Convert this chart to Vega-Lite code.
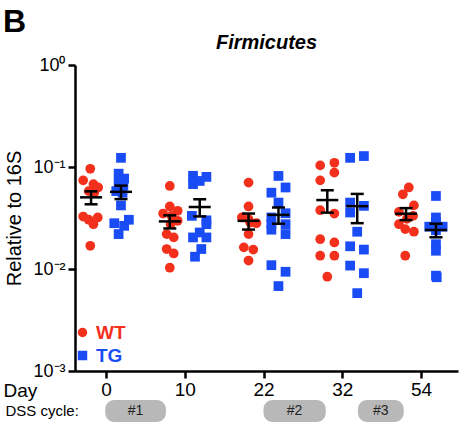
{
  "$schema": "https://vega.github.io/schema/vega-lite/v6.json",
  "padding": {"left": 3, "top": 6, "right": 8, "bottom": 0},
  "background": "white",
  "title": {"text": "B", "anchor": "start", "fontSize": 32, "fontWeight": "bold", "font": "Liberation Sans", "color": "black", "offset": -6},
  "config": {"view": {"stroke": null}, "font": "Liberation Sans"},
  "spacing": -3,
  "resolve": {"scale": {"color": "independent", "shape": "independent"}, "legend": {"color": "independent", "shape": "independent"}},
  "datasets": {
    "points": [
      {"day":0,"group":"WT","v":0.096,"jit":-0.1},{"day":0,"group":"WT","v":0.074,"jit":-1},{"day":0,"group":"WT","v":0.068,"jit":0.3},{"day":0,"group":"WT","v":0.063,"jit":0.9},{"day":0,"group":"WT","v":0.058,"jit":-0.3},{"day":0,"group":"WT","v":0.056,"jit":0.4},{"day":0,"group":"WT","v":0.0327,"jit":-1},{"day":0,"group":"WT","v":0.032,"jit":0.85},{"day":0,"group":"WT","v":0.0304,"jit":-0.3},{"day":0,"group":"WT","v":0.0275,"jit":0.3},{"day":0,"group":"WT","v":0.0169,"jit":-0.1},
      {"day":0,"group":"TG","v":0.123,"jit":0},{"day":0,"group":"TG","v":0.086,"jit":-0.3},{"day":0,"group":"TG","v":0.077,"jit":0.4},{"day":0,"group":"TG","v":0.07,"jit":-0.3},{"day":0,"group":"TG","v":0.066,"jit":0.3},{"day":0,"group":"TG","v":0.058,"jit":-0.6},{"day":0,"group":"TG","v":0.056,"jit":0.2},{"day":0,"group":"TG","v":0.042,"jit":0},{"day":0,"group":"TG","v":0.0281,"jit":-0.85},{"day":0,"group":"TG","v":0.0304,"jit":1},{"day":0,"group":"TG","v":0.0265,"jit":0.4},{"day":0,"group":"TG","v":0.022,"jit":-0.3},
      {"day":10,"group":"WT","v":0.0652,"jit":0},{"day":10,"group":"WT","v":0.041,"jit":0},{"day":10,"group":"WT","v":0.0372,"jit":1},{"day":10,"group":"WT","v":0.035,"jit":-0.85},{"day":10,"group":"WT","v":0.0332,"jit":0.2},{"day":10,"group":"WT","v":0.0297,"jit":1},{"day":10,"group":"WT","v":0.0275,"jit":0.1},{"day":10,"group":"WT","v":0.022,"jit":-0.4},{"day":10,"group":"WT","v":0.0204,"jit":0.5},{"day":10,"group":"WT","v":0.0157,"jit":-0.4},{"day":10,"group":"WT","v":0.0142,"jit":0.5},{"day":10,"group":"WT","v":0.0103,"jit":0},
      {"day":10,"group":"TG","v":0.082,"jit":-0.85},{"day":10,"group":"TG","v":0.08,"jit":0.85},{"day":10,"group":"TG","v":0.073,"jit":0},{"day":10,"group":"TG","v":0.068,"jit":-0.85},{"day":10,"group":"TG","v":0.0332,"jit":-1},{"day":10,"group":"TG","v":0.03,"jit":0.85},{"day":10,"group":"TG","v":0.0275,"jit":0.85},{"day":10,"group":"TG","v":0.0228,"jit":0},{"day":10,"group":"TG","v":0.0204,"jit":-0.85},{"day":10,"group":"TG","v":0.0204,"jit":0.85},{"day":10,"group":"TG","v":0.0157,"jit":0.2},{"day":10,"group":"TG","v":0.0132,"jit":-0.6},
      {"day":22,"group":"WT","v":0.0703,"jit":0},{"day":22,"group":"WT","v":0.041,"jit":0},{"day":22,"group":"WT","v":0.032,"jit":-0.85},{"day":22,"group":"WT","v":0.0308,"jit":0},{"day":22,"group":"WT","v":0.0285,"jit":0.2},{"day":22,"group":"WT","v":0.0281,"jit":1},{"day":22,"group":"WT","v":0.022,"jit":0},{"day":22,"group":"WT","v":0.0163,"jit":-0.6},{"day":22,"group":"WT","v":0.0155,"jit":0.6},{"day":22,"group":"WT","v":0.0121,"jit":0},
      {"day":22,"group":"TG","v":0.0817,"jit":0},{"day":22,"group":"TG","v":0.063,"jit":0.9},{"day":22,"group":"TG","v":0.056,"jit":-0.9},{"day":22,"group":"TG","v":0.0448,"jit":0},{"day":22,"group":"TG","v":0.0352,"jit":0.9},{"day":22,"group":"TG","v":0.032,"jit":-0.9},{"day":22,"group":"TG","v":0.0275,"jit":-0.9},{"day":22,"group":"TG","v":0.0243,"jit":-0.9},{"day":22,"group":"TG","v":0.0275,"jit":0.9},{"day":22,"group":"TG","v":0.022,"jit":0.9},{"day":22,"group":"TG","v":0.0109,"jit":-0.9},{"day":22,"group":"TG","v":0.0094,"jit":0.9},{"day":22,"group":"TG","v":0.0068,"jit":0},
      {"day":32,"group":"WT","v":0.1037,"jit":-0.9},{"day":32,"group":"WT","v":0.11,"jit":0.9},{"day":32,"group":"WT","v":0.088,"jit":0.9},{"day":32,"group":"WT","v":0.074,"jit":-0.9},{"day":32,"group":"WT","v":0.0377,"jit":-0.9},{"day":32,"group":"WT","v":0.035,"jit":0.9},{"day":32,"group":"WT","v":0.0196,"jit":-0.9},{"day":32,"group":"WT","v":0.0182,"jit":0.9},{"day":32,"group":"WT","v":0.0135,"jit":-0.9},{"day":32,"group":"WT","v":0.0135,"jit":0.9},{"day":32,"group":"WT","v":0.0084,"jit":0},
      {"day":32,"group":"TG","v":0.123,"jit":-0.9},{"day":32,"group":"TG","v":0.128,"jit":0.85},{"day":32,"group":"TG","v":0.0448,"jit":-0.9},{"day":32,"group":"TG","v":0.0416,"jit":0.85},{"day":32,"group":"TG","v":0.0358,"jit":-0.9},{"day":32,"group":"TG","v":0.0232,"jit":0},{"day":32,"group":"TG","v":0.0167,"jit":-0.9},{"day":32,"group":"TG","v":0.0155,"jit":0.85},{"day":32,"group":"TG","v":0.0108,"jit":-0.9},{"day":32,"group":"TG","v":0.0091,"jit":0.85},{"day":32,"group":"TG","v":0.0058,"jit":0},
      {"day":54,"group":"WT","v":0.063,"jit":0.35},{"day":54,"group":"WT","v":0.054,"jit":-0.4},{"day":54,"group":"WT","v":0.042,"jit":1},{"day":54,"group":"WT","v":0.0363,"jit":-0.9},{"day":54,"group":"WT","v":0.0332,"jit":0.9},{"day":54,"group":"WT","v":0.031,"jit":0.1},{"day":54,"group":"WT","v":0.0275,"jit":-0.9},{"day":54,"group":"WT","v":0.0246,"jit":-0.1},{"day":54,"group":"WT","v":0.0232,"jit":1},{"day":54,"group":"WT","v":0.0135,"jit":-0.1},
      {"day":54,"group":"TG","v":0.052,"jit":0},{"day":54,"group":"TG","v":0.032,"jit":0},{"day":54,"group":"TG","v":0.029,"jit":0},{"day":54,"group":"TG","v":0.026,"jit":-0.85},{"day":54,"group":"TG","v":0.026,"jit":0.85},{"day":54,"group":"TG","v":0.027,"jit":0},{"day":54,"group":"TG","v":0.024,"jit":0},{"day":54,"group":"TG","v":0.0175,"jit":0},{"day":54,"group":"TG","v":0.0151,"jit":0},{"day":54,"group":"TG","v":0.0086,"jit":0},{"day":54,"group":"TG","v":0.0083,"jit":0.1}
    ],
    "cycles": [
      {"label": "#1", "start": -0.01, "end": 0.76, "row": "DSS cycle:"},
      {"label": "#2", "start": 2.0, "end": 2.79, "row": "DSS cycle:"},
      {"label": "#3", "start": 3.2, "end": 3.78, "row": "DSS cycle:"}
    ]
  },
  "vconcat": [
    {
      "width": 383,
      "height": 306,
      "title": {"text": "Firmicutes", "fontSize": 20, "fontWeight": "bold", "fontStyle": "italic", "color": "black", "anchor": "middle", "offset": 3},
      "data": {"name": "points"},
      "transform": [
        {"calculate": "indexof([0,10,22,32,54], datum.day)", "as": "idx"},
        {"calculate": "datum.idx + (datum.group === 'WT' ? -0.19 : 0.19)", "as": "gx"},
        {"calculate": "datum.gx + 0.1 * datum.jit", "as": "xpos"}
      ],
      "layer": [
        {
          "mark": {"type": "point", "filled": true, "opacity": 1, "size": 95},
          "encoding": {
            "x": {
              "field": "xpos", "type": "quantitative",
              "scale": {"domain": [-0.394, 4.47], "nice": false, "zero": false},
              "axis": {
                "title": "Day", "values": [0, 1, 2, 3, 4],
                "labelExpr": "['0','10','22','32','54'][datum.value]",
                "labelFontSize": 19, "labelColor": "black", "labelPadding": 2, "labelFlush": false,
                "tickSize": 7, "tickWidth": 2.5, "tickColor": "black",
                "domainColor": "black", "domainWidth": 2.5, "grid": false,
                "titleX": -72, "titleY": 25, "titleAlign": "left", "titleBaseline": "alphabetic",
                "titleFontSize": 19, "titleFontWeight": "normal", "titleColor": "black"
              }
            },
            "y": {
              "field": "v", "type": "quantitative",
              "scale": {"type": "log", "domain": [0.001, 1], "nice": false},
              "axis": {
                "title": "Relative to 16S", "values": [0.001, 0.01, 0.1, 1],
                "labelExpr": "datum.value > 0.5 ? '10⁰' : datum.value > 0.05 ? '10⁻¹' : datum.value > 0.005 ? '10⁻²' : '10⁻³'",
                "labelFontSize": 18, "labelColor": "black", "labelPadding": 3, "labelFlush": false,
                "tickSize": 7, "tickWidth": 2.5, "tickColor": "black",
                "domainColor": "black", "domainWidth": 2.5, "grid": false,
                "titleFontSize": 20, "titleFontWeight": "normal", "titleColor": "black", "titlePadding": 8
              }
            },
            "color": {
              "field": "group", "type": "nominal",
              "scale": {"domain": ["WT", "TG"], "range": ["#f3301c", "#1a4cf5"]},
              "legend": {
                "title": null, "orient": "none", "legendX": -2, "legendY": 258, "padding": 0,
                "symbolSize": 90, "labelFontSize": 19, "labelFontWeight": "bold", "labelOffset": 4, "rowPadding": 3,
                "labelColor": {"expr": "datum.value === 'WT' ? '#f3301c' : '#1a4cf5'"}
              }
            },
            "shape": {
              "field": "group", "type": "nominal",
              "scale": {"domain": ["WT", "TG"], "range": ["circle", "square"]},
              "legend": {
                "title": null, "orient": "none", "legendX": -2, "legendY": 258, "padding": 0,
                "symbolSize": 90, "labelFontSize": 19, "labelFontWeight": "bold", "labelOffset": 4, "rowPadding": 3,
                "labelColor": {"expr": "datum.value === 'WT' ? '#f3301c' : '#1a4cf5'"}
              }
            }
          }
        },
        {
          "transform": [
            {"aggregate": [{"op": "mean", "field": "v", "as": "mean"}, {"op": "stderr", "field": "v", "as": "se"}], "groupby": ["gx"]},
            {"calculate": "datum.mean - datum.se", "as": "lo"},
            {"calculate": "datum.mean + datum.se", "as": "hi"}
          ],
          "layer": [
            {
              "mark": {"type": "rule", "color": "black", "strokeWidth": 2.5},
              "encoding": {
                "x": {"field": "gx", "type": "quantitative"},
                "y": {"field": "lo", "type": "quantitative"},
                "y2": {"field": "hi"}
              }
            },
            {
              "mark": {"type": "tick", "orient": "horizontal", "color": "black", "thickness": 2.5, "size": 22, "opacity": 1},
              "encoding": {
                "x": {"field": "gx", "type": "quantitative"},
                "y": {"field": "mean", "type": "quantitative"}
              }
            },
            {
              "mark": {"type": "tick", "orient": "horizontal", "color": "black", "thickness": 2.5, "size": 13, "opacity": 1},
              "encoding": {
                "x": {"field": "gx", "type": "quantitative"},
                "y": {"field": "lo", "type": "quantitative"}
              }
            },
            {
              "mark": {"type": "tick", "orient": "horizontal", "color": "black", "thickness": 2.5, "size": 13, "opacity": 1},
              "encoding": {
                "x": {"field": "gx", "type": "quantitative"},
                "y": {"field": "hi", "type": "quantitative"}
              }
            }
          ]
        }
      ]
    },
    {
      "width": 383,
      "height": 22,
      "data": {"name": "cycles"},
      "transform": [{"calculate": "(datum.start + datum.end) / 2", "as": "mid"}],
      "layer": [
        {
          "mark": {"type": "rect", "cornerRadius": 9, "color": "#b8b8b8"},
          "encoding": {
            "x": {"field": "start", "type": "quantitative", "scale": {"domain": [-0.394, 4.47], "nice": false, "zero": false}, "axis": null},
            "x2": {"field": "end"},
            "y": {
              "field": "row", "type": "nominal",
              "scale": {"paddingInner": 0, "paddingOuter": 0},
              "axis": {"title": null, "domain": false, "ticks": false, "tickSize": 0, "labelAlign": "left", "labelPadding": 70, "labelFontSize": 15, "labelColor": "black"}
            }
          }
        },
        {
          "mark": {"type": "text", "fontSize": 14, "color": "#222222"},
          "encoding": {
            "x": {"field": "mid", "type": "quantitative"},
            "y": {"field": "row", "type": "nominal"},
            "text": {"field": "label"}
          }
        }
      ]
    }
  ]
}
